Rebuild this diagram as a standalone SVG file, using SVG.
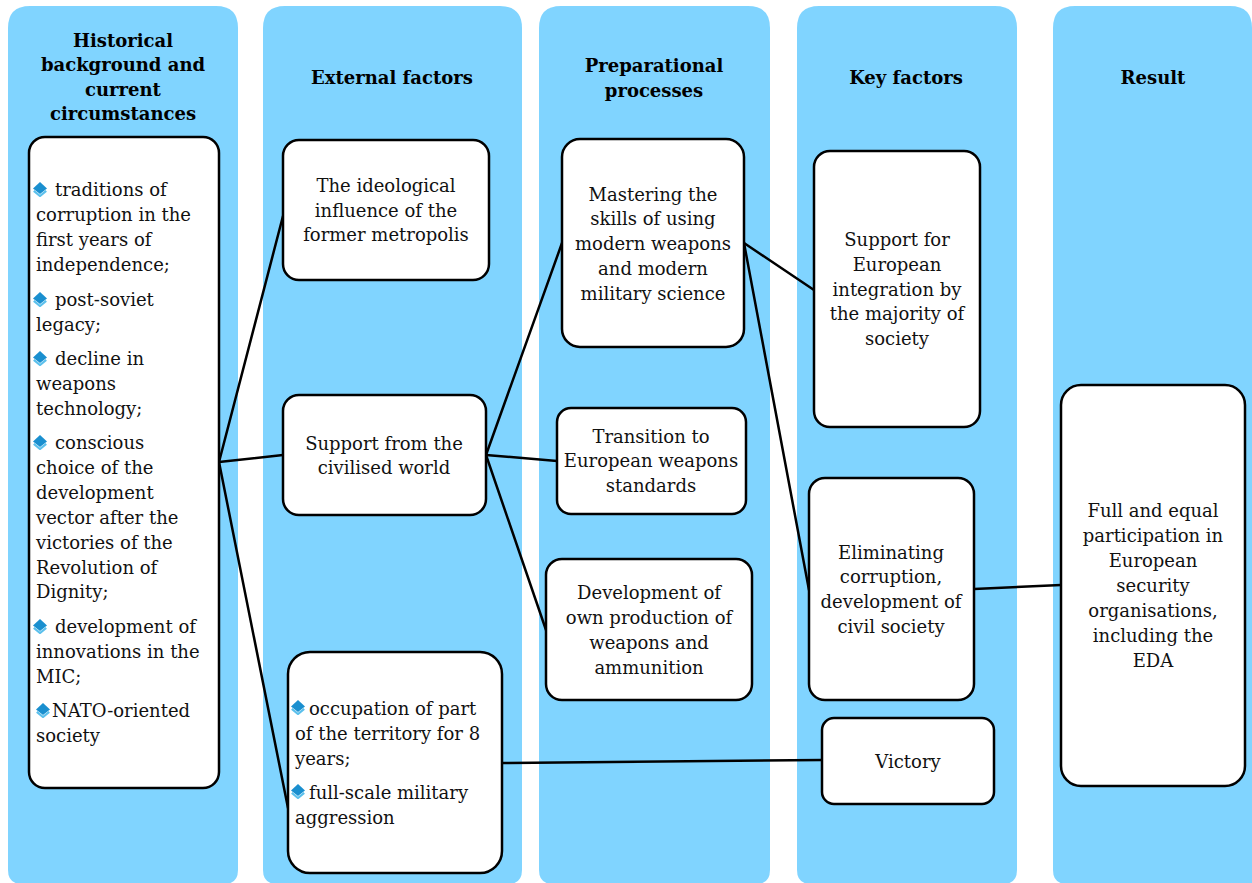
<svg xmlns="http://www.w3.org/2000/svg" width="1252" height="883" viewBox="0 0 1252 883">
  <style>
    .col { fill: #80D4FF; }
    .box { fill: #FFFFFF; stroke: #000000; stroke-width: 2.5; }
    .hdr { font-family: "DejaVu Serif", "Liberation Serif", serif; font-size: 18px; font-weight: bold; fill: #000000; text-anchor: middle; }
    .txt { font-family: "DejaVu Serif", "Liberation Serif", serif; font-size: 18px; fill: #111111; }
    .mid { text-anchor: middle; }
    .link { stroke: #000000; stroke-width: 2.5; fill: none; stroke-linecap: round; }
  </style>
  <defs>
    <!-- list bullet: filled diamond with a lighter chevron under it -->
    <symbol id="bullet" viewBox="0 0 14 15">
      <polygon points="7,0 14,6.5 7,12 0,6.5" fill="#1A8FCF"/>
      <path d="M0.8,8.8 L7,14 L13.2,8.8" stroke="#5CC0EC" stroke-width="2.2" fill="none"/>
    </symbol>
  </defs>

  <!-- column backgrounds -->
  <g id="columns">
    <path class="col" d="M30,6 H216 Q238,6 238,28 V870 Q238,884 224,884 H22 Q8,884 8,870 V28 Q8,6 30,6 Z"/>
    <path class="col" d="M285,6 H500 Q522,6 522,28 V870 Q522,884 508,884 H277 Q263,884 263,870 V28 Q263,6 285,6 Z"/>
    <path class="col" d="M561,6 H748 Q770,6 770,28 V870 Q770,884 756,884 H553 Q539,884 539,870 V28 Q539,6 561,6 Z"/>
    <path class="col" d="M819,6 H995 Q1017,6 1017,28 V870 Q1017,884 1003,884 H811 Q797,884 797,870 V28 Q797,6 819,6 Z"/>
    <path class="col" d="M1075,6 H1230 Q1252,6 1252,28 V884 H1067 Q1053,884 1053,870 V28 Q1053,6 1075,6 Z"/>
  </g>

  <!-- column headings -->
  <g id="headings">
    <text class="hdr" x="123" y="47">Historical</text>
    <text class="hdr" x="123" y="71">background and</text>
    <text class="hdr" x="123" y="96">current</text>
    <text class="hdr" x="123" y="120">circumstances</text>
    <text class="hdr" x="392" y="84">External factors</text>
    <text class="hdr" x="654" y="72">Preparational</text>
    <text class="hdr" x="654" y="97">processes</text>
    <text class="hdr" x="906" y="84">Key factors</text>
    <text class="hdr" x="1153" y="84">Result</text>
  </g>

  <!-- connectors -->
  <g id="connectors">
    <line class="link" x1="219" y1="462" x2="283" y2="216"/>
    <line class="link" x1="219" y1="462" x2="283" y2="455"/>
    <line class="link" x1="219" y1="462" x2="288" y2="808"/>
    <line class="link" x1="486" y1="455" x2="562" y2="243"/>
    <line class="link" x1="486" y1="455" x2="557" y2="461"/>
    <line class="link" x1="486" y1="455" x2="546" y2="630"/>
    <line class="link" x1="744" y1="243" x2="814" y2="290"/>
    <line class="link" x1="744" y1="243" x2="809" y2="590"/>
    <line class="link" x1="974" y1="589" x2="1061" y2="585"/>
    <line class="link" x1="502" y1="763" x2="822" y2="760"/>
  </g>

  <!-- historical background list -->
  <g id="node-history">
    <rect class="box" x="29" y="137" width="190" height="651" rx="16"/>
    <use href="#bullet" x="33" y="182" width="14" height="15"/>
    <text class="txt" x="55" y="196">traditions of</text>
    <text class="txt" x="36" y="221">corruption in the</text>
    <text class="txt" x="36" y="246">first years of</text>
    <text class="txt" x="36" y="271">independence;</text>
    <use href="#bullet" x="33" y="292" width="14" height="15"/>
    <text class="txt" x="55" y="306">post-soviet</text>
    <text class="txt" x="36" y="331">legacy;</text>
    <use href="#bullet" x="33" y="351" width="14" height="15"/>
    <text class="txt" x="55" y="365">decline in</text>
    <text class="txt" x="36" y="390">weapons</text>
    <text class="txt" x="36" y="415">technology;</text>
    <use href="#bullet" x="33" y="435" width="14" height="15"/>
    <text class="txt" x="55" y="449">conscious</text>
    <text class="txt" x="36" y="474">choice of the</text>
    <text class="txt" x="36" y="499">development</text>
    <text class="txt" x="36" y="524">vector after the</text>
    <text class="txt" x="36" y="549">victories of the</text>
    <text class="txt" x="36" y="574">Revolution of</text>
    <text class="txt" x="36" y="598">Dignity;</text>
    <use href="#bullet" x="33" y="619" width="14" height="15"/>
    <text class="txt" x="55" y="633">development of</text>
    <text class="txt" x="36" y="658">innovations in the</text>
    <text class="txt" x="36" y="683">MIC;</text>
    <use href="#bullet" x="36" y="703" width="14" height="15"/>
    <text class="txt" x="52" y="717">NATO-oriented</text>
    <text class="txt" x="36" y="742">society</text>
  </g>

  <!-- external factors -->
  <g id="node-ideological">
    <rect class="box" x="283" y="140" width="206" height="140" rx="16"/>
    <text class="txt mid" x="386" y="192">The ideological</text>
    <text class="txt mid" x="386" y="217">influence of the</text>
    <text class="txt mid" x="386" y="241">former metropolis</text>
  </g>
  <g id="node-support-world">
    <rect class="box" x="283" y="395" width="203" height="120" rx="16"/>
    <text class="txt mid" x="384" y="450">Support from the</text>
    <text class="txt mid" x="384" y="474">civilised world</text>
  </g>
  <g id="node-aggression">
    <rect class="box" x="288" y="652" width="214" height="221" rx="22"/>
    <use href="#bullet" x="291" y="700" width="14" height="15"/>
    <text class="txt" x="309" y="715">occupation of part</text>
    <text class="txt" x="295" y="740">of the territory for 8</text>
    <text class="txt" x="295" y="765">years;</text>
    <use href="#bullet" x="291" y="784" width="14" height="15"/>
    <text class="txt" x="309" y="799">full-scale military</text>
    <text class="txt" x="295" y="824">aggression</text>
  </g>

  <!-- preparational processes -->
  <g id="node-mastering">
    <rect class="box" x="562" y="139" width="182" height="208" rx="18"/>
    <text class="txt mid" x="653" y="201">Mastering the</text>
    <text class="txt mid" x="653" y="225">skills of using</text>
    <text class="txt mid" x="653" y="250">modern weapons</text>
    <text class="txt mid" x="653" y="275">and modern</text>
    <text class="txt mid" x="653" y="300">military science</text>
  </g>
  <g id="node-transition">
    <rect class="box" x="557" y="408" width="189" height="106" rx="14"/>
    <text class="txt mid" x="651" y="443">Transition to</text>
    <text class="txt mid" x="651" y="467">European weapons</text>
    <text class="txt mid" x="651" y="492">standards</text>
  </g>
  <g id="node-production">
    <rect class="box" x="546" y="559" width="206" height="141" rx="16"/>
    <text class="txt mid" x="649" y="599">Development of</text>
    <text class="txt mid" x="649" y="624">own production of</text>
    <text class="txt mid" x="649" y="649">weapons and</text>
    <text class="txt mid" x="649" y="674">ammunition</text>
  </g>

  <!-- key factors -->
  <g id="node-integration">
    <rect class="box" x="814" y="151" width="166" height="276" rx="16"/>
    <text class="txt mid" x="897" y="246">Support for</text>
    <text class="txt mid" x="897" y="271">European</text>
    <text class="txt mid" x="897" y="296">integration by</text>
    <text class="txt mid" x="897" y="320">the majority of</text>
    <text class="txt mid" x="897" y="345">society</text>
  </g>
  <g id="node-corruption">
    <rect class="box" x="809" y="478" width="165" height="222" rx="16"/>
    <text class="txt mid" x="891" y="559">Eliminating</text>
    <text class="txt mid" x="891" y="583">corruption,</text>
    <text class="txt mid" x="891" y="608">development of</text>
    <text class="txt mid" x="891" y="633">civil society</text>
  </g>
  <g id="node-victory">
    <rect class="box" x="822" y="718" width="172" height="86" rx="12"/>
    <text class="txt mid" x="908" y="768">Victory</text>
  </g>

  <!-- result -->
  <g id="node-result">
    <rect class="box" x="1061" y="385" width="184" height="401" rx="20"/>
    <text class="txt mid" x="1153" y="517">Full and equal</text>
    <text class="txt mid" x="1153" y="542">participation in</text>
    <text class="txt mid" x="1153" y="567">European</text>
    <text class="txt mid" x="1153" y="592">security</text>
    <text class="txt mid" x="1153" y="617">organisations,</text>
    <text class="txt mid" x="1153" y="642">including the</text>
    <text class="txt mid" x="1153" y="667">EDA</text>
  </g>
</svg>
